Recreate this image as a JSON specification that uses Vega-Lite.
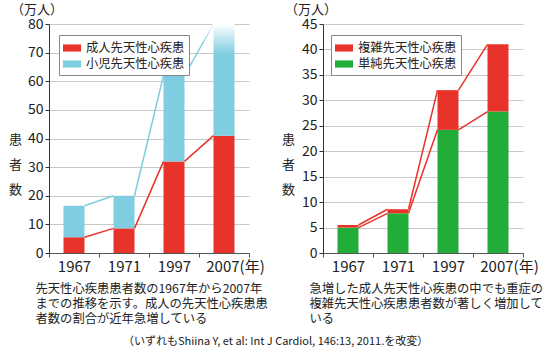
{
  "$schema": "https://vega.github.io/schema/vega-lite/v6.json",
  "background": "white",
  "padding": {"left": 8, "top": 4, "right": 2, "bottom": 2},
  "config": {
    "font": "Noto Sans CJK JP",
    "view": {"stroke": null},
    "axisY": {
      "domainColor": "#333333", "domainWidth": 1, "tickColor": "#333333", "tickSize": 4,
      "gridColor": "#c8c8c8", "gridWidth": 1.2, "labelFontSize": 14, "labelColor": "#222222",
      "labelPadding": 2, "labelOverlap": false, "titleFontSize": 13, "titleFontWeight": "normal", "titleColor": "#222222",
      "titleAngle": 0, "titleAlign": "center", "titleBaseline": "middle", "titleLineHeight": 25, "titleY": 115
    },
    "axisX": {
      "domainColor": "#555555", "tickColor": "#555555", "tickSize": 4, "grid": false,
      "labelFontSize": 15, "labelColor": "#222222", "labelPadding": 2, "labelAngle": 0, "tickBand": "extent",
      "titleFontSize": 12.3, "titleFontWeight": "normal", "titleColor": "#222222",
      "titleAlign": "left", "titleBaseline": "top", "titleX": -14, "titleY": 29, "titleLineHeight": 15
    },
    "legend": {
      "labelFontSize": 12.3, "labelColor": "#222222", "strokeColor": "#888888", "fillColor": "white",
      "padding": 4, "rowPadding": 0, "symbolType": "M-1,-0.4H1V0.4H-1Z", "symbolSize": 324,
      "symbolStrokeWidth": 0, "labelOffset": 5
    },
    "title": {"fontWeight": "normal", "color": "#222222"}
  },
  "datasets": {
    "left": [
      {"year": "1967", "adult": 5.5, "total": 16.5},
      {"year": "1971", "adult": 8.6, "total": 20},
      {"year": "1997", "adult": 32, "total": 62},
      {"year": "2007", "adult": 41, "total": 80}
    ],
    "right": [
      {"year": "1967", "simple": 5.0, "total": 5.5},
      {"year": "1971", "simple": 7.8, "total": 8.6},
      {"year": "1997", "simple": 24.2, "total": 32},
      {"year": "2007", "simple": 27.8, "total": 41}
    ]
  },
  "title": {
    "text": "（いずれもShiina Y, et al: Int J Cardiol, 146:13, 2011.を改変）",
    "orient": "bottom", "anchor": "middle", "fontSize": 11, "offset": 12
  },
  "resolve": {"scale": {"color": "independent", "x": "independent", "y": "independent"}, "legend": {"color": "independent"}},
  "spacing": 13,
  "hconcat": [
    {
      "width": 200, "height": 229,
      "title": {"text": "（万人）", "anchor": "start", "frame": "group", "dx": -38, "dy": -1, "fontSize": 13, "offset": -1},
      "data": {"name": "left"},
      "transform": [
        {"window": [{"op": "lead", "field": "year", "as": "next"}, {"op": "lead", "field": "adult", "as": "nextAdult"}, {"op": "lead", "field": "total", "as": "nextTotal"}], "sort": [{"field": "year"}]}
      ],
      "encoding": {
        "x": {
          "field": "year", "type": "nominal", "sort": null,
          "scale": {"paddingInner": 0, "paddingOuter": 0},
          "axis": {
            "labelExpr": "datum.value == '2007' ? '2007(年)' : datum.value",
            "labelOffset": {"condition": {"test": "datum.value == '2007'", "value": 11}, "value": 0},
            "title": ["先天性心疾患患者数の1967年から2007年", "までの推移を示す。成人の先天性心疾患患", "者数の割合が近年急増している"]
          }
        }
      },
      "layer": [
        {
          "mark": {"type": "bar", "width": {"band": 0.42}},
          "encoding": {
            "y": {
              "field": "adult", "type": "quantitative",
              "scale": {"domain": [0, 80], "nice": false},
              "axis": {"values": [0, 10, 20, 30, 40, 50, 60, 70, 80], "title": ["患", "者", "数"], "titleX": -34}
            },
            "color": {
              "datum": "成人先天性心疾患",
              "scale": {"domain": ["成人先天性心疾患", "小児先天性心疾患"], "range": ["#e8332a", "#7ecde0"]},
              "legend": {"title": null, "orient": "none", "legendX": 10, "legendY": 11}
            }
          }
        },
        {
          "transform": [{"filter": "datum.year != '2007'"}],
          "mark": {"type": "bar", "width": {"band": 0.42}},
          "encoding": {
            "y": {"field": "total", "type": "quantitative",
              "axis": {"values": [0, 10, 20, 30, 40, 50, 60, 70, 80], "title": ["患", "者", "数"], "titleX": -34}},
            "y2": {"field": "adult"},
            "color": {"datum": "小児先天性心疾患"}
          }
        },
        {
          "transform": [{"filter": "datum.year == '2007'"}],
          "mark": {
            "type": "bar", "width": {"band": 0.42},
            "color": {"gradient": "linear", "x1": 0, "y1": 0, "x2": 0, "y2": 1,
              "stops": [{"offset": 0, "color": "#ffffff"}, {"offset": 0.27, "color": "#7ecde0"}, {"offset": 1, "color": "#7ecde0"}]}
          },
          "encoding": {
            "y": {"field": "total", "type": "quantitative",
              "axis": {"values": [0, 10, 20, 30, 40, 50, 60, 70, 80], "title": ["患", "者", "数"], "titleX": -34}},
            "y2": {"field": "adult"}
          }
        },
        {
          "transform": [{"filter": "datum.next != null"}],
          "mark": {"type": "rule", "color": "#e8332a", "strokeWidth": 1.5},
          "encoding": {
            "x": {"field": "year", "type": "nominal", "sort": null, "bandPosition": 0.71},
            "x2": {"field": "next", "bandPosition": 0.29},
            "y": {"field": "adult", "type": "quantitative",
              "axis": {"values": [0, 10, 20, 30, 40, 50, 60, 70, 80], "title": ["患", "者", "数"], "titleX": -34}},
            "y2": {"field": "nextAdult"}
          }
        },
        {
          "transform": [{"filter": "datum.next != null && datum.year != '1997'"}],
          "mark": {"type": "rule", "color": "#7ecde0", "strokeWidth": 1.5},
          "encoding": {
            "x": {"field": "year", "type": "nominal", "sort": null, "bandPosition": 0.71},
            "x2": {"field": "next", "bandPosition": 0.29},
            "y": {"field": "total", "type": "quantitative",
              "axis": {"values": [0, 10, 20, 30, 40, 50, 60, 70, 80], "title": ["患", "者", "数"], "titleX": -34}},
            "y2": {"field": "nextTotal"}
          }
        },
        {
          "transform": [{"filter": "datum.year == '1997'"}],
          "mark": {"type": "rule", "strokeWidth": 1.5,
            "stroke": {"gradient": "linear", "x1": 0, "y1": 0, "x2": 0, "y2": 1,
              "stops": [{"offset": 0, "color": "#ffffff"}, {"offset": 0.4, "color": "#7ecde0"}, {"offset": 1, "color": "#7ecde0"}]}},
          "encoding": {
            "x": {"field": "year", "type": "nominal", "sort": null, "bandPosition": 0.71},
            "x2": {"field": "next", "bandPosition": 0.29},
            "y": {"field": "total", "type": "quantitative",
              "axis": {"values": [0, 10, 20, 30, 40, 50, 60, 70, 80], "title": ["患", "者", "数"], "titleX": -34}},
            "y2": {"field": "nextTotal"}
          }
        }
      ]
    },
    {
      "width": 200, "height": 229,
      "title": {"text": "（万人）", "anchor": "start", "frame": "group", "dx": -38, "dy": -1, "fontSize": 13, "offset": -1},
      "data": {"name": "right"},
      "transform": [
        {"window": [{"op": "lead", "field": "year", "as": "next"}, {"op": "lead", "field": "simple", "as": "nextSimple"}, {"op": "lead", "field": "total", "as": "nextTotal"}], "sort": [{"field": "year"}]}
      ],
      "encoding": {
        "x": {
          "field": "year", "type": "nominal", "sort": null,
          "scale": {"paddingInner": 0, "paddingOuter": 0},
          "axis": {
            "labelExpr": "datum.value == '2007' ? '2007(年)' : datum.value",
            "labelOffset": {"condition": {"test": "datum.value == '2007'", "value": 11}, "value": 0},
            "title": ["急増した成人先天性心疾患の中でも重症の", "複雑先天性心疾患患者数が著しく増加して", "いる"]
          }
        }
      },
      "layer": [
        {
          "mark": {"type": "bar", "width": {"band": 0.42}},
          "encoding": {
            "y": {
              "field": "simple", "type": "quantitative",
              "scale": {"domain": [0, 45], "nice": false},
              "axis": {"values": [0, 5, 10, 15, 20, 25, 30, 35, 40, 45], "title": ["患", "者", "数"], "titleX": -35}
            },
            "color": {
              "datum": "単純先天性心疾患",
              "scale": {"domain": ["複雑先天性心疾患", "単純先天性心疾患"], "range": ["#e8332a", "#22ac38"]},
              "legend": {"title": null, "orient": "none", "legendX": 8, "legendY": 11}
            }
          }
        },
        {
          "mark": {"type": "bar", "width": {"band": 0.42}},
          "encoding": {
            "y": {"field": "total", "type": "quantitative",
              "axis": {"values": [0, 5, 10, 15, 20, 25, 30, 35, 40, 45], "title": ["患", "者", "数"], "titleX": -35}},
            "y2": {"field": "simple"},
            "color": {"datum": "複雑先天性心疾患"}
          }
        },
        {
          "transform": [{"filter": "datum.next != null"}],
          "mark": {"type": "rule", "color": "#e8332a", "strokeWidth": 1.5},
          "encoding": {
            "x": {"field": "year", "type": "nominal", "sort": null, "bandPosition": 0.71},
            "x2": {"field": "next", "bandPosition": 0.29},
            "y": {"field": "total", "type": "quantitative",
              "axis": {"values": [0, 5, 10, 15, 20, 25, 30, 35, 40, 45], "title": ["患", "者", "数"], "titleX": -35}},
            "y2": {"field": "nextTotal"}
          }
        },
        {
          "transform": [{"filter": "datum.next != null"}],
          "mark": {"type": "rule", "color": "#e8332a", "strokeWidth": 1.5},
          "encoding": {
            "x": {"field": "year", "type": "nominal", "sort": null, "bandPosition": 0.71},
            "x2": {"field": "next", "bandPosition": 0.29},
            "y": {"field": "simple", "type": "quantitative",
              "axis": {"values": [0, 5, 10, 15, 20, 25, 30, 35, 40, 45], "title": ["患", "者", "数"], "titleX": -35}},
            "y2": {"field": "nextSimple"}
          }
        }
      ]
    }
  ]
}
